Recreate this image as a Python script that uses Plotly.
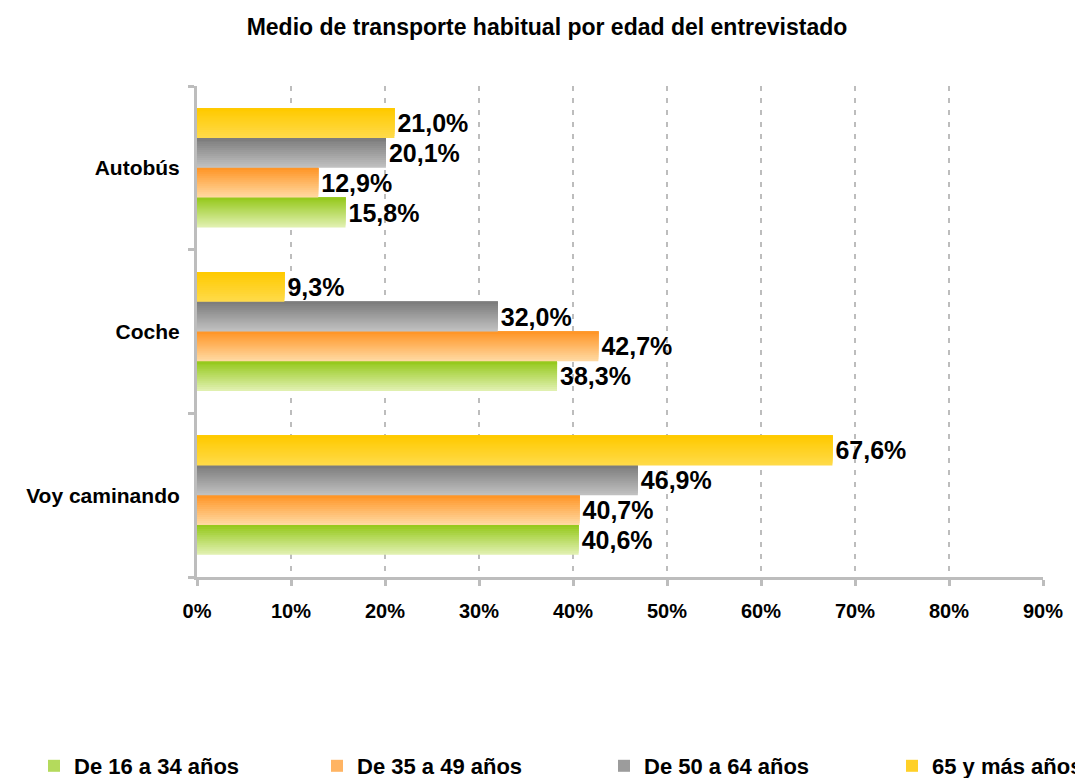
import plotly.graph_objects as go

# ---- data ----
categories = ["Autobús", "Coche", "Voy caminando"]
series_names = ["De 16 a 34 años", "De 35 a 49 años", "De 50 a 64 años", "65 y más años"]
v_16_34 = [15.8, 38.3, 40.6]
v_35_49 = [12.9, 42.7, 40.7]
v_50_64 = [20.1, 32.0, 46.9]
v_65_mas = [21.0, 9.3, 67.6]
x_ticks = [0, 10, 20, 30, 40, 50, 60, 70, 80, 90]
x_tick_labels = ["0%", "10%", "20%", "30%", "40%", "50%", "60%", "70%", "80%", "90%"]
title_text = "Medio de transporte habitual por edad del entrevistado"

series_values = [v_16_34, v_35_49, v_50_64, v_65_mas]
# gradient colours (top, bottom) per series
grad = [
    ((150, 201, 30), (224, 240, 175)),
    ((255, 150, 40), (255, 216, 160)),
    ((125, 125, 125), (192, 192, 192)),
    ((255, 202, 0), (255, 218, 72)),
]
legend_colors = ["#B4DA5C", "#FFB463", "#9C9C9C", "#FFD027"]

FONT = "Liberation Sans, Arial, sans-serif"
bar_w = 0.182
group_half = 2 * bar_w
N = 15

fig = go.Figure()
for s, (name, vals) in enumerate(zip(series_names, series_values)):
    base = -group_half + s * bar_w
    top, bot = grad[s]
    for k in range(N):
        t = k / (N - 1)
        c = tuple(round(bot[i] + (top[i] - bot[i]) * t) for i in range(3))
        fig.add_trace(go.Bar(
            y=categories, x=vals, orientation="h",
            offset=base + k * bar_w / N, width=bar_w * (N - k) / N,
            marker=dict(color="rgb(%d,%d,%d)" % c, line=dict(width=0)),
            showlegend=False, hoverinfo="skip", name=name,
        ))
    # labels
    fig.add_trace(go.Bar(
        y=categories, x=vals, orientation="h",
        offset=base, width=bar_w,
        marker=dict(color="rgba(0,0,0,0)", line=dict(width=0)),
        texttemplate="%{x:.1f}%", textposition="outside",
        textfont=dict(family=FONT, size=25, color="black", weight="bold"),
        constraintext="none", cliponaxis=False,
        showlegend=False, name=name,
    ))
    # legend entry
    fig.add_trace(go.Bar(
        y=[None], x=[None], orientation="h", name=name,
        marker=dict(color=legend_colors[s], line=dict(width=0)),
        showlegend=True, legend="legend" if s == 0 else "legend%d" % (s + 1),
    ))

W, H = 1083, 778
leg_x = [26, 309, 596, 884]
legend_common = dict(
    orientation="h", xref="container", yref="container",
    y=1 - 758 / H, yanchor="middle", xanchor="left",
    font=dict(family=FONT, size=22, color="black", weight="bold"),
    bgcolor="rgba(0,0,0,0)", borderwidth=0,
)
legends = {}
for i, lx in enumerate(leg_x):
    key = "legend" if i == 0 else "legend%d" % (i + 1)
    legends[key] = dict(x=lx / W, **legend_common)

gray = "#BDBDBD"
fig.update_layout(
    template="none",
    width=W, height=H,
    margin=dict(l=189, r=48, t=78, b=209),
    paper_bgcolor="white", plot_bgcolor="white",
    barmode="overlay",
    separators=",.",
    title=dict(text=title_text, x=539 / W, y=1 - 19 / H, xref="container", yref="container",
               xanchor="center", yanchor="middle",
               font=dict(family=FONT, size=23, color="black", weight="bold")),
    xaxis=dict(range=[0, 90], tickvals=x_ticks, ticktext=x_tick_labels,
               showgrid=True, gridcolor=gray, gridwidth=2, griddash="5px,7px",
               showline=True, linecolor=gray, linewidth=3,
               ticks="outside", ticklen=6, tickwidth=3, tickcolor=gray,
               tickfont=dict(family=FONT, size=20, color="black", weight="bold"),
               ticklabelstandoff=8, zeroline=False, automargin=False),
    yaxis=dict(type="category", categoryorder="array",
               categoryarray=list(reversed(categories)), range=[-0.5, 2.5],
               showgrid=False, showline=True, linecolor=gray, linewidth=3,
               ticks="outside", tickson="boundaries", ticklen=6, tickwidth=3, tickcolor=gray,
               tickfont=dict(family=FONT, size=21, color="black", weight="bold"),
               ticklabelstandoff=10, zeroline=False, automargin=False),
    **legends,
)

fig.write_html("out.html")
